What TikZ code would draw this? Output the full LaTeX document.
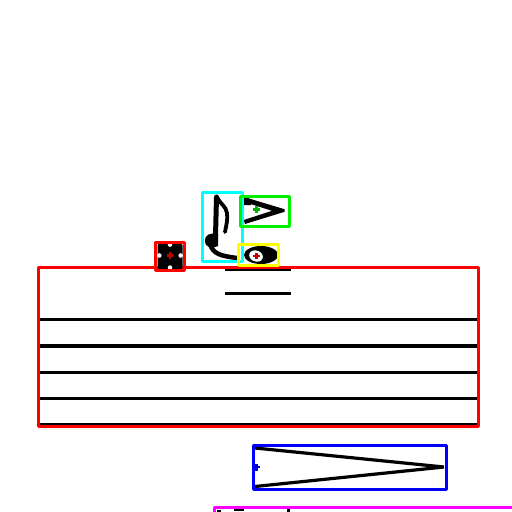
\documentclass[tikz,border=0pt]{standalone}
\begin{document}
\begin{tikzpicture}[x=1pt,y=-1pt,
  box/.style={line width=3pt,line join=round},
  staffline/.style={line width=3.5pt,black},
  ink/.style={line width=3.5pt,black,line cap=round,line join=round},
  mk/.style={line width=2.2pt}]
\useasboundingbox (0,0) rectangle (512,512);
\fill[white] (0,0) rectangle (512,512);
\definecolor{cy}{RGB}{0,255,255}
\definecolor{gr}{RGB}{0,240,0}
\definecolor{ye}{RGB}{255,255,0}
\definecolor{bl}{RGB}{0,0,255}
\definecolor{mg}{RGB}{255,0,255}
\definecolor{dred}{RGB}{200,0,0}
\definecolor{dgreen}{RGB}{0,180,0}
\definecolor{dblue}{RGB}{0,0,200}
\newcommand{\mkcross}[3]{\draw[mk,#3] (#1-3.2,#2) -- (#1+3.2,#2) (#1,#2-3.2) -- (#1,#2+3.2);}
% staff lines
\foreach \yy in {319.5,346,372.3,398.3,424.3}
  \draw[staffline] (40,\yy) -- (477,\yy);
% ledger lines
\draw[line width=3.5pt] (225,269.5) -- (291,269.5);
\draw[line width=3.5pt] (225,293.3) -- (291,293.3);
% big red box
\draw[box,red] (38.5,267) rectangle (478.5,426.5);
% small red box with notehead
\fill[black,rounded corners=1.5pt] (157.5,243.5) rectangle (182.5,269);
\fill[white] (170,244.6) circle (2.3);
\fill[white] (159.3,255.5) circle (2.3);
\fill[white] (180.7,255.5) circle (2.3);
\fill[white] (170,267.6) circle (2.3);
\draw[box,red] (155,242) rectangle (184.5,270);
\mkcross{170}{255.5}{dred}
% eighth note in cyan box
\draw[ink,line width=5pt] (216.5,197) -- (215.5,236);
\draw[ink,line width=3.8pt] (217,197) .. controls (220,204) and (226,206) .. (227,213) .. controls (228,220) and (226,226) .. (225,232);
\fill[black] (205,241) .. controls (204,235) and (211,232) .. (218,234) -- (218,246) .. controls (213,249) and (205,248) .. (205,241) -- cycle;
\draw[ink,line width=4.5pt] (210,244) .. controls (213,254) and (221,256) .. (237,258);
\draw[box,cy] (202.5,192.5) rectangle (242,261);
% accent in green box
\fill[black] (244,197) -- (284.5,209.2) -- (284.5,211.8) -- (245,224) -- (243.8,220) -- (272,210.8) -- (249,203.5) -- cycle;
\fill[black] (244,197) -- (251,199.2) -- (251,205) -- (244,205) -- cycle;
\draw[box,gr] (240.5,196) rectangle (289,226);
\mkcross{256.5}{209.5}{dgreen}
% notehead in yellow box
\fill[black] (261,255) ellipse (17 and 9);
\fill[white,rotate around={-20:(256,256)}] (256,256) ellipse (7 and 5.5);
\draw[box,ye] (238.5,244.5) rectangle (278.5,265.5);
\mkcross{256.5}{256}{dred}
% hairpin in blue box
\draw[line width=3.2pt,black,line join=bevel] (255,448) -- (444,467) -- (255,486.5);
\draw[box,bl] (253,445.5) rectangle (446.5,489);
\mkcross{256.5}{467.3}{dblue}
% partly visible magenta box
\begin{scope}
\clip (0,0) rectangle (512,512);
\fill[black] (217,509.5) rectangle (221,514);
\fill[black] (234,509.3) rectangle (244,511.3);
\fill[black] (287,508.8) rectangle (289.5,514);
\draw[box,mg] (214.5,507) rectangle (530,560);
\end{scope}
\end{tikzpicture}
\end{document}
